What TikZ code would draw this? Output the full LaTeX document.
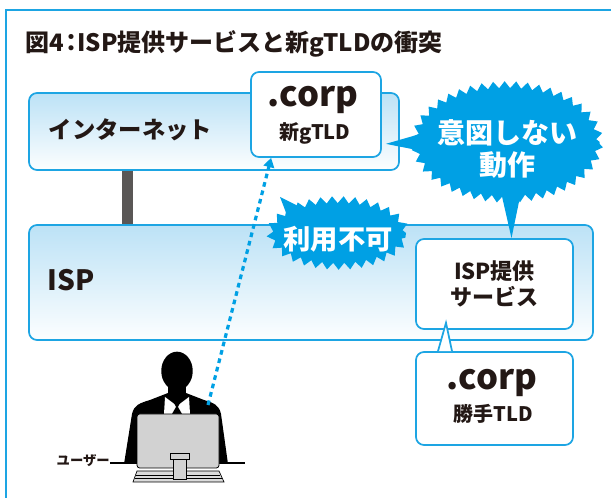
\documentclass[tikz,border=0pt]{standalone}
\usepackage{fontspec}
\setmainfont{Noto Sans CJK JP}
\usetikzlibrary{decorations.pathmorphing, arrows.meta, calc}

\definecolor{linkblue}{HTML}{1DA5E3}
\definecolor{burstblue}{HTML}{00A0E4}
\definecolor{paleblue}{HTML}{BCE2F6}
\definecolor{inkblack}{HTML}{231815}
\definecolor{bargray}{HTML}{5A5756}
\definecolor{screengray}{HTML}{D2D2D2}

\tikzstyle{layer} = [rectangle, rounded corners=6pt, draw=linkblue, line width=1.3pt, top color=paleblue, bottom color=white!96!paleblue]
\tikzstyle{tldbox} = [rectangle, rounded corners=6pt, draw=linkblue, line width=1.3pt, fill=white, align=center, inner sep=0pt]
\tikzstyle{burst} = [fill=burstblue, decorate, decoration={zigzag, segment length=8.5pt, amplitude=2.6pt}]
\tikzstyle{burstlabel} = [text=white, align=center, inner sep=0pt]
\tikzstyle{dotarrow} = [draw=burstblue, line width=2.4pt, dash pattern=on 3.5pt off 3pt, -{Triangle[length=7pt,width=8pt]}]

\begin{document}
\begin{tikzpicture}[x=0.75pt, y=-0.75pt, font=\bfseries, text=inkblack]
    \useasboundingbox (0,0) rectangle (611,498);

    % frame and title
    \draw[linkblue, line width=1.2pt] (6,498) -- (6,10) -- (611,10);
    \node (title) [anchor=west, font=\fontsize{18}{20}\bfseries] at (21,44) {図4\kern-.2em：\kern-.25em ISP提供サービスと新gTLDの衝突};

    % the two layers
    \node (net) [layer, minimum width=277.5pt, minimum height=57.75pt] at (214,131.5) {};
    \node (isp) [layer, minimum width=423pt, minimum height=86.25pt] at (311,282.5) {};
    \node (netlabel) [anchor=west, font=\fontsize{17.5}{20}\bfseries] at (44,130) {インターネット};
    \node (isplabel) [anchor=west, font=\fontsize{21}{24}\bfseries] at (43,280) {ISP};
    \coordinate (link) at (127.5,0);
    \draw[bargray, line width=8.25pt] (net.south -| link) -- (isp.north -| link);

    % TLD boxes
    \node (gtld) [tldbox, minimum width=97.5pt, minimum height=63.75pt] at (316,114.5) {};
    \node [font=\fontsize{26}{26}\bfseries] at (313,100) {.corp};
    \node [font=\fontsize{15}{16}\bfseries] at (315,133) {新gTLD};

    \node (svc) [tldbox, minimum width=117.75pt, minimum height=67.5pt, font=\fontsize{16.5}{19.5}\bfseries] at (494.5,284) {ISP提供\\サービス};

    \node (local) [tldbox, minimum width=117.75pt, minimum height=69.75pt] at (494.5,398.5) {};
    \node [font=\fontsize{26}{26}\bfseries] at (492,383) {.corp};
    \node [font=\fontsize{15}{16}\bfseries] at (493,414) {勝手TLD};
    \filldraw[fill=white, draw=linkblue, line width=1.3pt] ($(local.north)+(-56.5,0)$) -- ($(svc.south)+(-48.5,-7)$) -- ($(local.north)+(-42.5,0)$);

    % user at the desk
    \node (userlabel) [anchor=east, inner sep=0pt, font=\fontsize{10}{12}\bfseries] at (110,461) {ユーザー};
    \coordinate (desk) at (245,463);
    \draw[line width=0.8pt] (userlabel.east |- desk) -- (desk);
    \fill[black] (124,464) -- (132,414) .. controls (134,405) and (140,403) .. (150,400) -- (168,393) -- (186,393) -- (204,400) .. controls (214,403) and (219,405) .. (221,414) -- (228,464) -- cycle;
    \fill[black] (177,371) ellipse [x radius=11.8pt, y radius=14.5pt];
    \fill[black] (168,380) rectangle (186,396);
    \fill[white] (165,397) -- (177,406) -- (189,397) -- (190,414) -- (164,414) -- cycle;
    \fill[black] (174,403) -- (180,403) -- (178,407) -- (182,414) -- (172,414) -- (176,407) -- cycle;
    \filldraw[fill=screengray!80, draw=black, line width=0.5pt] (133,482) -- (137,471) -- (219,471) -- (224,482) -- cycle;
    \draw[line width=0.4pt] (136,475) -- (220,475) (135,478.5) -- (222,478.5);
    \filldraw[fill=screengray, draw=black, line width=0.6pt, rounded corners=2pt] (137,414) rectangle (219,468);
    \filldraw[fill=screengray, draw=black, line width=0.5pt] (173,458) rectangle (186,479);
    \filldraw[fill=screengray, draw=black, line width=0.5pt] (170,453) rectangle (189,459);
    \coordinate (user) at (208,405);
    \draw[dotarrow] (user) -- ($(gtld.south west)+(21,0)$);

    % bursts
    \coordinate (blockedc) at (338,233);
    \fill[burst] (blockedc) ellipse [x radius=51pt, y radius=25pt];
    \fill[burstblue] ($(blockedc)+(-48,-10)$) -- ($(blockedc)+(-58,-36)$) -- ($(blockedc)+(-30,-22)$) -- cycle;
    \node (blocked) [burstlabel, font=\fontsize{20.5}{22}\bfseries] at ($(blockedc)+(0,6)$) {利用不可};

    \coordinate (intentc) at (507,142);
    \fill[burst] (intentc) ellipse [x radius=69.5pt, y radius=43pt];
    \fill[burstblue] ($(intentc)+(-80,-10)$) -- ($(gtld.south east)+(4,-14)$) -- ($(intentc)+(-80,10)$) -- cycle;
    \fill[burstblue] ($(intentc)+(-6,50)$) -- ($(svc.north)+(17,0)$) -- ($(intentc)+(14,50)$) -- cycle;
    \node (intent) [burstlabel, font=\fontsize{21}{24}\bfseries] at ($(intentc)+(0,7)$) {意図しない\\動作};
\end{tikzpicture}
\end{document}
